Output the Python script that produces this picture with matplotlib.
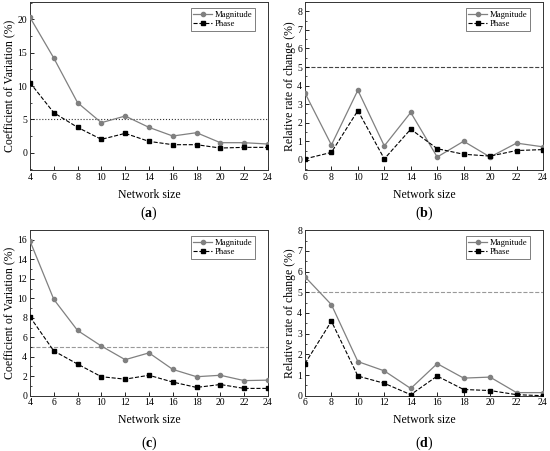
import numpy as np
import matplotlib
matplotlib.use('Agg')
import matplotlib.pyplot as plt
from matplotlib.ticker import AutoMinorLocator

plt.rcParams['font.family'] = ['Liberation Serif', 'DejaVu Serif']
plt.rcParams['mathtext.fontset'] = 'custom'
plt.rcParams['mathtext.rm'] = 'Liberation Serif'
plt.rcParams['mathtext.bf'] = 'Liberation Serif:bold'

# Daten (a)
size_a = [4, 6, 8, 10, 12, 14, 16, 18, 20, 22, 24]
mag_a = [20.3, 14.2, 7.5, 4.5, 5.5, 3.8, 2.5, 3.0, 1.5, 1.5, 1.3]
pha_a = [10.5, 6.0, 3.8, 2.0, 2.9, 1.7, 1.2, 1.2, 0.7, 0.8, 0.8]

# Daten (b)
size_b = [6, 8, 10, 12, 14, 16, 18, 20, 22, 24]
mag_b = [3.6, 0.8, 3.75, 0.75, 2.55, 0.15, 1.0, 0.15, 0.9, 0.7]
pha_b = [0.05, 0.4, 2.65, 0.05, 1.65, 0.6, 0.3, 0.2, 0.5, 0.55]

# Daten (c)
size_c = [4, 6, 8, 10, 12, 14, 16, 18, 20, 22, 24]
mag_c = [15.9, 9.9, 6.7, 5.1, 3.7, 4.4, 2.7, 1.95, 2.1, 1.55, 1.6]
pha_c = [8.1, 4.6, 3.25, 1.95, 1.7, 2.1, 1.4, 0.85, 1.15, 0.75, 0.75]

# Daten (d)
size_d = [6, 8, 10, 12, 14, 16, 18, 20, 22, 24]
mag_d = [5.75, 4.4, 1.65, 1.2, 0.35, 1.55, 0.85, 0.9, 0.15, 0.15]
pha_d = [1.55, 3.6, 0.95, 0.6, 0.05, 0.95, 0.3, 0.25, 0.05, 0.0]

threshold = 5

fig = plt.figure(figsize=(5.5, 4.51), dpi=100)

panels = [
    # pos, x, mag, pha, ylim, yticks, ylabel, letter, label y (fig), thr style, thr color
    ([0.0545, 0.623, 0.4327, 0.3725], size_a, mag_a, pha_a, (-2.6, 22.6),
     np.arange(0, 21, 5), 'Coefficient of Variation (%)', 'a', 1 - 213 / 451, ':', '#333333'),
    ([0.5545, 0.623, 0.4327, 0.3725], size_b, mag_b, pha_b, (-0.55, 8.5),
     np.arange(0, 9, 1), 'Relative rate of change (%)', 'b', 1 - 213 / 451, '--', '#444444'),
    ([0.0545, 0.1226, 0.4327, 0.367], size_c, mag_c, pha_c, (0, 17),
     np.arange(0, 17, 2), 'Coefficient of Variation (%)', 'c', 1 - 443 / 451, '--', '#999999'),
    ([0.5545, 0.1226, 0.4327, 0.367], size_d, mag_d, pha_d, (0, 8),
     np.arange(0, 9, 1), 'Relative rate of change (%)', 'd', 1 - 443 / 451, '--', '#999999'),
]

for pos, x, mag, pha, ylim, yticks, ylabel, letter, ly, ls, lc in panels:
    ax = fig.add_axes(pos)
    ax.axhline(threshold, color=lc, linestyle=ls, linewidth=0.8, zorder=1)
    ax.plot(x, mag, color='#808080', linestyle='-', linewidth=0.9,
            marker='o', markersize=3, label='Magnitude', zorder=3)
    ax.plot(x, pha, color='black', linestyle='--', linewidth=0.8,
            marker='s', markersize=2.8, label='Phase', zorder=3)
    ax.set_xlim(x[0], 24)
    ax.set_ylim(*ylim)
    ax.set_xticks(np.arange(x[0], 25, 2))
    ax.set_yticks(yticks)
    ax.yaxis.set_minor_locator(AutoMinorLocator(2))
    ax.tick_params(direction='in', labelsize=7, length=3, width=0.6, pad=2)
    ax.tick_params(which='minor', direction='in', length=1.5, width=0.5)
    for sp in ax.spines.values():
        sp.set_linewidth(0.7)
        sp.set_color('#333333')
    ax.set_ylabel(ylabel, fontsize=8.5, labelpad=1)
    ax.set_xlabel('Network size', fontsize=8.5, labelpad=5)
    leg = ax.legend(loc='upper right', fontsize=6.2, frameon=True, fancybox=False,
                    edgecolor='#444444', borderpad=0.3, handlelength=2.2,
                    handletextpad=0.3, labelspacing=0.2, borderaxespad=0,
                    bbox_to_anchor=(0.945, 0.965))
    leg.get_frame().set_linewidth(0.6)
    fig.text(pos[0] + pos[2] / 2, ly, '(' + r'$\mathbf{' + letter + '}$' + ')',
             ha='center', va='center', fontsize=10)

fig.savefig('out.png', dpi=100)
